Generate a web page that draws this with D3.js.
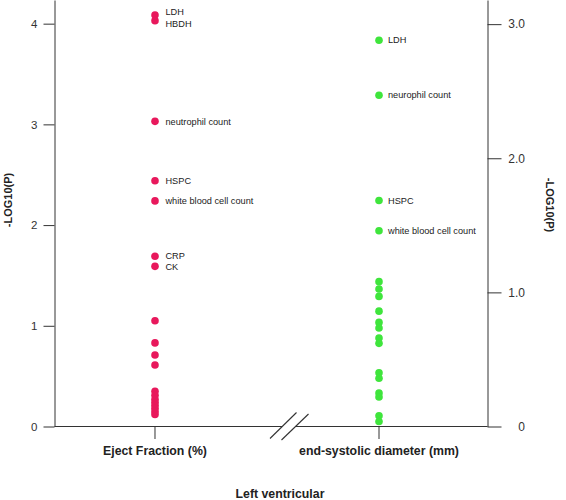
<!DOCTYPE html>
<html>
<head>
<meta charset="utf-8">
<script src="https://cdn.jsdelivr.net/npm/d3@7"></script>
<style>
  html, body { margin: 0; padding: 0; background: #fff; }
  svg { display: block; font-family: "Liberation Sans", Arial, sans-serif; }
</style>
</head>
<body>
<svg id="chart" width="566" height="500"></svg>
<script>
// ---- data ----
const categories = ["Eject Fraction (%)", "end-systolic diameter (mm)"];
const groupTitle = "Left ventricular";
const yTitle = "-LOG10(P)";

const efValues = [4.085, 4.03, 3.03, 2.44, 2.24, 1.69, 1.59, 1.05, 0.83, 0.71, 0.61,
                  0.35, 0.31, 0.27, 0.24, 0.21, 0.18, 0.15, 0.12];
const efLabels = ["LDH", "HBDH", "neutrophil count", "HSPC", "white blood cell count", "CRP", "CK"];

const esdValues = [2.88, 2.47, 1.685, 1.46, 1.08, 1.025, 0.97, 0.86, 0.776, 0.734, 0.66, 0.62,
                   0.40, 0.36, 0.25, 0.22, 0.08, 0.037];
const esdLabels = ["LDH", "neurophil count", "HSPC", "white blood cell count"];

const leftTicks = [0, 1, 2, 3, 4];
const rightTicks = [0, 1, 2, 3];
const rightTickLabels = ["0", "1.0", "2.0", "3.0"];

const colors = ["#E8185C", "#3FE53C"];

// ---- layout ----
const svg = d3.select("#chart");
const axisColor = "#333";
const xLeft = 54.5, xRight = 487.5, yBase = 426.5;

const x = d3.scalePoint().domain(categories).range([46, 488]).padding(0.4866);
const yL = d3.scaleLinear().domain([0, 4.235]).range([yBase, 0]);
const yR = d3.scaleLinear().domain([0, 3.18]).range([yBase, 0]);

// left axis
const gL = svg.append("g").attr("transform", `translate(${xLeft},0)`)
  .call(d3.axisLeft(yL).tickValues(leftTicks).tickFormat(d3.format("d"))
        .tickSize(11).tickSizeOuter(0).tickPadding(6));
gL.selectAll("path,line").attr("stroke", axisColor);
gL.selectAll("text").attr("font-size", 11.5).attr("fill", axisColor)
  .attr("font-family", "Liberation Sans, Arial, sans-serif");

// right axis
const gR = svg.append("g").attr("transform", `translate(${xRight},0)`)
  .call(d3.axisRight(yR).tickValues(rightTicks).tickFormat((d, i) => rightTickLabels[i])
        .tickSize(14).tickSizeOuter(0));
gR.selectAll("path,line").attr("stroke", axisColor);
gR.selectAll("text").attr("font-size", 12).attr("fill", axisColor)
  .attr("text-anchor", "end").attr("x", 37.5)
  .attr("font-family", "Liberation Sans, Arial, sans-serif");

// bottom axis with break
const breakA = 282, breakB = 296;
svg.append("line").attr("x1", xLeft).attr("x2", breakA).attr("y1", yBase).attr("y2", yBase)
  .attr("stroke", axisColor);
svg.append("line").attr("x1", breakB).attr("x2", xRight).attr("y1", yBase).attr("y2", yBase)
  .attr("stroke", axisColor);
[[270, 438.5, 296.5, 412.5], [281.5, 440, 308.5, 414]].forEach(s => {
  svg.append("line").attr("x1", s[0]).attr("y1", s[1]).attr("x2", s[2]).attr("y2", s[3])
    .attr("stroke", axisColor).attr("stroke-width", 1.1);
});

// x ticks + labels
categories.forEach(c => {
  svg.append("line").attr("x1", x(c)).attr("x2", x(c)).attr("y1", yBase).attr("y2", yBase + 12.5)
    .attr("stroke", axisColor);
  svg.append("text").attr("x", x(c)).attr("y", 454.5).attr("text-anchor", "middle")
    .attr("font-size", 12.3).attr("font-weight", "bold").attr("fill", "#222").text(c);
});
svg.append("text").attr("x", 280).attr("y", 498).attr("text-anchor", "middle")
  .attr("font-size", 12.3).attr("font-weight", "bold").attr("fill", "#222").text(groupTitle);

// y titles
svg.append("text").attr("transform", "translate(12,200) rotate(-90)").attr("text-anchor", "middle")
  .attr("font-size", 11).attr("font-weight", "bold").attr("fill", "#222").text(yTitle);
svg.append("text").attr("transform", "translate(546,205) rotate(90)").attr("text-anchor", "middle")
  .attr("font-size", 11).attr("font-weight", "bold").attr("fill", "#222").text(yTitle);

// points
function drawSeries(cat, values, labels, yScale, color, labelOffset) {
  const cx = x(cat);
  svg.append("g").selectAll("circle").data(values).join("circle")
    .attr("cx", cx).attr("cy", d => yScale(d)).attr("r", 3.8).attr("fill", color);

  // labels with simple collision avoidance
  const items = labels.map((l, i) => ({ text: l, y: yScale(values[i]) }));
  items.sort((a, b) => a.y - b.y);
  const minGap = 11.5;
  for (let iter = 0; iter < 20; iter++) {
    for (let i = 1; i < items.length; i++) {
      const gap = items[i].y - items[i - 1].y;
      if (gap < minGap) {
        const push = (minGap - gap) / 2;
        items[i - 1].y -= push;
        items[i].y += push;
      }
    }
  }
  svg.append("g").selectAll("text").data(items).join("text")
    .attr("x", cx + labelOffset).attr("y", d => d.y).attr("dy", "0.35em")
    .attr("font-size", 9.2).attr("fill", "#222").text(d => d.text);
}
drawSeries(categories[0], efValues, efLabels, yL, colors[0], 10.5);
drawSeries(categories[1], esdValues, esdLabels, yR, colors[1], 9);
</script>
</body>
</html>
